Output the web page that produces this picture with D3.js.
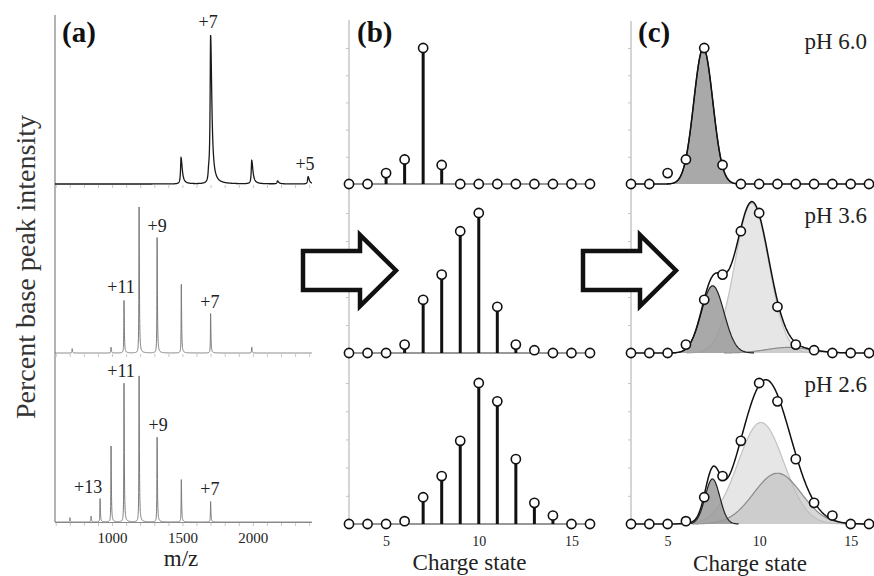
<!DOCTYPE html>
<html>
<head>
<meta charset="utf-8">
<script src="https://cdn.jsdelivr.net/npm/d3@7"></script>
<style>
  html, body { margin: 0; padding: 0; background: #fff; }
  svg { display: block; font-family: "Liberation Serif", "Times New Roman", serif; }
</style>
</head>
<body>
<div id="chart"></div>
<script>
// ========================================
// DATA
// ========================================

// charge states shown in panels (b) and (c)
const chargeStates = [3, 4, 5, 6, 7, 8, 9, 10, 11, 12, 13, 14, 15, 16];

// normalised charge state distributions, % of base peak
const distPH60 = [0, 0, 8, 18, 100, 14, 0, 0, 0, 0, 0, 0, 0, 0];
const distPH36 = [0, 0, 0, 6, 38, 56, 87, 100, 33, 6, 2, 0, 0, 0];
const distPH26 = [0, 0, 0, 2, 19, 34, 59, 100, 87, 46, 15, 6, 0, 0];

// mass spectra peaks: [m/z, % intensity]
const peaksPH60 = [[1490, 18], [1686, 6], [1700, 100], [1992, 16], [2175, 2], [2392, 5]];
const peaksPH36 = [[717, 3], [993, 4], [1085, 36], [1192, 100], [1320, 79], [1492, 47], [1700, 27], [1992, 4]];
const peaksPH26 = [[701, 3], [851, 4], [915, 16], [993, 52], [1085, 95], [1192, 100], [1320, 58], [1492, 29], [1700, 14]];

// peak annotations: [text, m/z, level in %]
const labelsPH60 = [["+7", 1682, 107], ["+5", 2370, 9.5]];
const labelsPH36 = [["+11", 1064, 41], ["+9", 1320, 83], ["+7", 1695, 31]];
const labelsPH26 = [["+13", 830, 20], ["+11", 1064, 99], ["+9", 1327, 62], ["+7", 1695, 18.5]];

// gaussian components fitted in panel (c): [centre, amplitude %, sigma, shade]
const fitPH60 = [[6.95, 100, 0.52, "dark"]];
const fitPH36 = [[9.6, 107, 0.92, "light"], [11.6, 4, 1.2, "mid"], [7.46, 48, 0.62, "dark"]];
const fitPH26 = [[10.1, 72, 1.25, "light"], [11.0, 36, 1.3, "mid"], [7.45, 32, 0.4, "dark"]];

const phLabels = ["pH 6.0", "pH 3.6", "pH 2.6"];
const mzTicks = [1000, 1500, 2000];
const chargeTicks = [5, 10, 15];

// ========================================
// LAYOUT
// ========================================

const width = 874, height = 576;

const svg = d3.select('#chart')
  .append('svg')
  .attr('width', width)
  .attr('height', height);

const rowsA = [184, 353, 522];                 // spectrum baselines
const rowsB = [[184, 48], [353, 213], [524, 383]]; // [baseline, y of 100 %]

const xMz = d3.scaleLinear().domain([595, 2420]).range([55, 312]);
const xB = d3.scaleLinear().domain([3, 16]).range([349, 590]);
const xC = d3.scaleLinear().domain([3, 16]).range([631, 869]);

const yA = rowsA.map(b => d3.scaleLinear().domain([0, 100]).range([b, b - 146]));
const yB = rowsB.map(r => d3.scaleLinear().domain([0, 100]).range(r));

const shades = {
  dark:  { fill: '#9a9a9a', opacity: 0.85, stroke: '#222' },
  mid:   { fill: '#bcbcbc', opacity: 0.6,  stroke: '#8a8a8a' },
  light: { fill: '#e6e6e6', opacity: 1,    stroke: '#c2c2c2' }
};

function gauss(z, c) {
  return c[1] * Math.exp(-((z - c[0]) ** 2) / (2 * c[2] * c[2]));
}

// ========================================
// PANEL (a) - mass spectra
// ========================================

const gA = svg.append('g');

gA.append('line')
  .attr('x1', 55).attr('x2', 55).attr('y1', 15).attr('y2', 522)
  .attr('stroke', '#8a8a8a').attr('stroke-width', 1.3);

const mzSamples = d3.range(595, 2420, 0.5);
const spectra = [
  { peaks: peaksPH60, wl: 4, wr: 10, color: '#1a1a1a', sw: 1.3 },
  { peaks: peaksPH36, wl: 1.5, wr: 2.5, color: '#7a7a7a', sw: 1 },
  { peaks: peaksPH26, wl: 1.5, wr: 2.5, color: '#7a7a7a', sw: 1 }
];

spectra.forEach((s, i) => {
  // minor ticks under each baseline
  gA.append('g')
    .attr('transform', `translate(0,${rowsA[i] + 1})`)
    .call(d3.axisBottom(xMz).tickValues(d3.range(600, 2401, 100)).tickSize(3).tickFormat(''))
    .call(g => g.select('.domain').remove())
    .call(g => g.selectAll('line').attr('stroke', '#c8c8c8'));

  const line = d3.line()
    .x(d => xMz(d))
    .y(d => yA[i](d3.sum(s.peaks, p => {
      const w = d < p[0] ? s.wl : s.wr;
      return p[1] / (1 + ((d - p[0]) / w) ** 2);
    })));

  gA.append('path')
    .attr('d', line(mzSamples))
    .attr('fill', 'none')
    .attr('stroke', s.color)
    .attr('stroke-width', s.sw);
});

gA.append('line')
  .attr('x1', 55).attr('x2', 312).attr('y1', 522.5).attr('y2', 522.5)
  .attr('stroke', '#8a8a8a').attr('stroke-width', 1.2);

[labelsPH60, labelsPH36, labelsPH26].forEach((labels, i) => {
  gA.selectAll(null)
    .data(labels)
    .enter().append('text')
    .attr('x', d => xMz(d[1]))
    .attr('y', d => yA[i](d[2]))
    .attr('text-anchor', 'middle')
    .attr('font-size', 18)
    .attr('fill', '#222')
    .text(d => d[0]);
});

gA.append('g')
  .attr('transform', 'translate(0,530)')
  .call(d3.axisBottom(xMz).tickValues(mzTicks).tickSize(0).tickPadding(0).tickFormat(d3.format('d')))
  .call(g => g.select('.domain').remove())
  .call(g => g.selectAll('text')
    .attr('font-family', 'Liberation Serif').attr('font-size', 15)
    .attr('fill', '#222').attr('dy', 13));

gA.append('text')
  .attr('x', 181).attr('y', 566)
  .attr('text-anchor', 'middle').attr('font-size', 23).attr('fill', '#222')
  .text('m/z');

gA.append('text')
  .attr('transform', 'translate(35,267) rotate(-90)')
  .attr('text-anchor', 'middle').attr('font-size', 28).attr('fill', '#333')
  .text('Percent base peak intensity');

// ========================================
// PANELS (b) and (c) - charge state distributions
// ========================================

const dists = [distPH60, distPH36, distPH26];
const fits = [fitPH60, fitPH36, fitPH26];

function drawAxisFrame(g, x0, top) {
  g.append('line')
    .attr('x1', x0).attr('x2', x0).attr('y1', top).attr('y2', 528)
    .attr('stroke', '#ababab').attr('stroke-width', 1);
  yB.forEach(y => {
    g.append('g')
      .attr('transform', `translate(${x0},0)`)
      .call(d3.axisLeft(y).tickValues([20, 40, 60, 80, 100]).tickSize(3).tickFormat(''))
      .call(s => s.select('.domain').remove())
      .call(s => s.selectAll('line').attr('stroke', '#c4c4c4'));
  });
}

function drawChargeAxis(g, x, labelY, titleY) {
  g.append('g')
    .attr('transform', 'translate(0,537)')
    .call(d3.axisBottom(x).tickValues(chargeTicks).tickSize(0).tickPadding(0))
    .call(s => s.select('.domain').remove())
    .call(s => s.selectAll('text')
      .attr('font-family', 'Liberation Serif').attr('font-size', 14)
      .attr('fill', '#222').attr('dy', labelY - 537));
  g.append('text')
    .attr('x', x(9.5)).attr('y', titleY)
    .attr('text-anchor', 'middle').attr('font-size', 23).attr('fill', '#222')
    .text('Charge state');
}

function drawCircles(g, x, y, values) {
  g.selectAll(null)
    .data(values)
    .enter().append('circle')
    .attr('cx', (d, j) => x(chargeStates[j]))
    .attr('cy', d => y(d))
    .attr('r', 4.6)
    .attr('fill', '#fff')
    .attr('stroke', '#111')
    .attr('stroke-width', 1.6);
}

// (b) stick plots
const gB = svg.append('g');
drawAxisFrame(gB, 349, 20);

dists.forEach((values, i) => {
  const y = yB[i];
  gB.append('line')
    .attr('x1', xB(3)).attr('x2', xB(16)).attr('y1', y(0)).attr('y2', y(0))
    .attr('stroke', '#333').attr('stroke-width', 1.2);

  gB.selectAll(null)
    .data(values.map((v, j) => [chargeStates[j], v]).filter(d => d[1] > 0))
    .enter().append('line')
    .attr('x1', d => xB(d[0])).attr('x2', d => xB(d[0]))
    .attr('y1', y(0)).attr('y2', d => y(d[1]))
    .attr('stroke', '#111').attr('stroke-width', 3);

  drawCircles(gB, xB, y, values);
});
drawChargeAxis(gB, xB, 546, 570);

// (c) gaussian fits
const gC = svg.append('g');
drawAxisFrame(gC, 631, 21);

const zSamples = d3.range(3, 16.001, 0.04);

fits.forEach((comps, i) => {
  const y = yB[i];

  comps.forEach(c => {
    const sh = shades[c[3]];
    const pts = zSamples.filter(z => gauss(z, c) > 0.05);
    gC.append('path')
      .attr('d', d3.area().x(z => xC(z)).y0(y(0)).y1(z => y(gauss(z, c)))(pts))
      .attr('fill', sh.fill).attr('fill-opacity', sh.opacity);
    gC.append('path')
      .attr('d', d3.line().x(z => xC(z)).y(z => y(gauss(z, c)))(pts))
      .attr('fill', 'none').attr('stroke', sh.stroke).attr('stroke-width', 1.2);
  });

  const sumLine = d3.line()
    .x(z => xC(z))
    .y(z => y(d3.sum(comps, c => gauss(z, c))));
  gC.append('path')
    .attr('d', sumLine(zSamples))
    .attr('fill', 'none').attr('stroke', '#111').attr('stroke-width', 1.5);

  drawCircles(gC, xC, y, dists[i]);
});
drawChargeAxis(gC, xC, 546, 571);

// pH labels
const phY = [49, 223, 392];
svg.selectAll(null)
  .data(phLabels)
  .enter().append('text')
  .attr('x', 867).attr('y', (d, i) => phY[i])
  .attr('text-anchor', 'end').attr('font-size', 23).attr('fill', '#222')
  .text(d => d);

// panel letters
[['(a)', 62], ['(b)', 357], ['(c)', 638]].forEach(p => {
  svg.append('text')
    .attr('x', p[1]).attr('y', 42)
    .attr('font-size', 29).attr('font-weight', 'bold').attr('fill', '#111')
    .text(p[0]);
});

// ========================================
// ARROWS
// ========================================

const arrowShape = [[0, 16], [57, 16], [57, 0], [93, 35.5], [57, 71], [57, 55], [0, 55]];
[303, 583].forEach(x0 => {
  svg.append('polygon')
    .attr('points', arrowShape.map(p => [x0 + p[0], 235 + p[1]].join(',')).join(' '))
    .attr('fill', '#fff')
    .attr('stroke', '#111')
    .attr('stroke-width', 4.5)
    .attr('stroke-linejoin', 'miter');
});
</script>
</body>
</html>
